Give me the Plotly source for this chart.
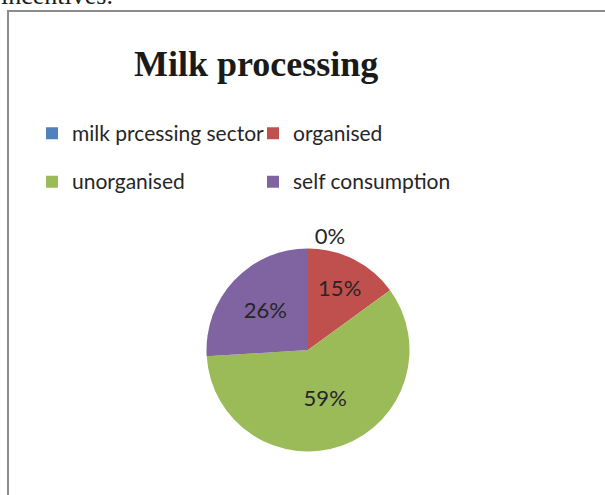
import plotly.graph_objects as go

# ---- data ----
categories = ["milk prcessing sector", "organised", "unorganised", "self consumption"]
shares = [0, 15, 59, 26]
colors = ["#4F81BD", "#C0504D", "#9BBB59", "#8064A2"]
title_text = "Milk processing"
page_text = "incentives."

W, H = 605, 495

def px_x(x):
    return x / W

def px_y(y):
    return 1 - y / H

# pie geometry (pixels)
cx, cy, r = 308, 350, 101.5

legend_labels = [
    f"<span style='font-size:21px;baseline-shift:6px'>{c}</span>" for c in categories
]

fig = go.Figure(
    go.Pie(
        labels=legend_labels,
        values=shares,
        sort=False,
        direction="clockwise",
        rotation=0,
        marker=dict(colors=colors, line=dict(width=0)),
        texttemplate="%{percent:.0%}",
        textposition=["outside", "inside", "inside", "inside"],
        insidetextorientation="horizontal",
        textfont=dict(family="Lato", size=22, color="#262626"),
        domain=dict(x=[px_x(cx - r), px_x(cx + r)], y=[px_y(cy + r), px_y(cy - r)]),
        hoverinfo="label+percent",
        showlegend=True,
    )
)

fig.update_layout(
    width=W,
    height=H,
    margin=dict(l=0, r=0, t=0, b=0),
    paper_bgcolor="white",
    plot_bgcolor="white",
    showlegend=True,
    legend=dict(
        orientation="h",
        x=px_x(32),
        xanchor="left",
        y=px_y(104),
        yanchor="top",
        entrywidth=176,
        entrywidthmode="pixels",
        font=dict(family="Lato", size=35, color="#262626"),
        bgcolor="rgba(0,0,0,0)",
        traceorder="normal",
    ),
    shapes=[
        dict(
            type="path",
            xref="paper",
            yref="paper",
            path=f"M {px_x(8)},{px_y(520)} L {px_x(8)},{px_y(11)} L {px_x(640)},{px_y(11)}",
            line=dict(color="#8c8c8c", width=2),
        )
    ],
    annotations=[
        dict(
            text=f"<b>{title_text}</b>",
            x=px_x(256),
            y=px_y(64),
            xref="paper",
            yref="paper",
            xanchor="center",
            yanchor="middle",
            showarrow=False,
            font=dict(family="Liberation Serif", size=36, color="#1a1a1a"),
        ),
        dict(
            text=page_text,
            x=px_x(115),
            y=px_y(-4),
            xref="paper",
            yref="paper",
            xanchor="right",
            yanchor="middle",
            showarrow=False,
            font=dict(family="Liberation Serif", size=26, color="#1a1a1a"),
        ),
    ],
)

fig.write_html(
    "out.html",
    config={"displayModeBar": False},
    post_script="document.body.style.margin='0px';",
)
